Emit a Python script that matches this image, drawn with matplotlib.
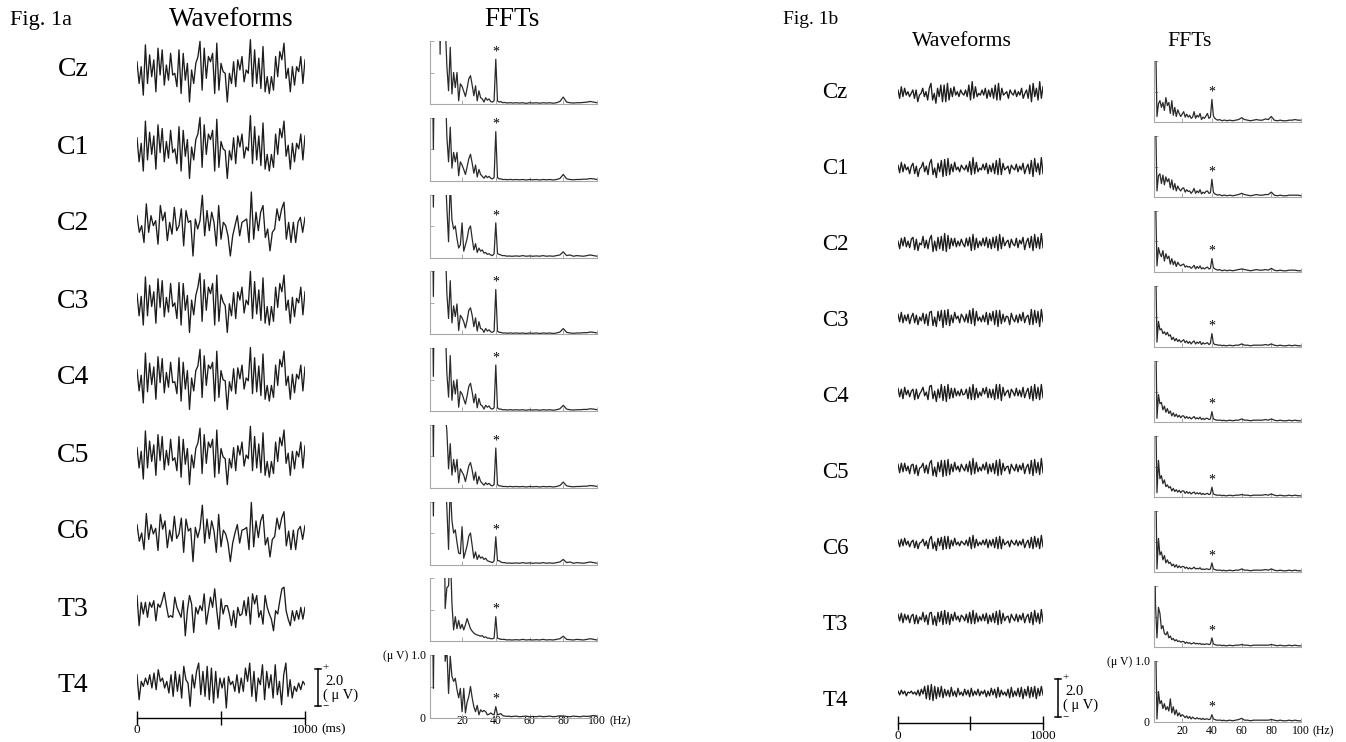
import numpy as np
import matplotlib
matplotlib.use('Agg')
import matplotlib.pyplot as plt

# ---------------- data ----------------
channels = ['Cz', 'C1', 'C2', 'C3', 'C4', 'C5', 'C6', 'T3', 'T4']

# Waveforms, Fig. 1a (uV, evenly spaced over 0-1000 ms)
wave_a_Cz = [0.45,-0.73,0.18,-1.36,1.36,-0.73,0.82,-0.36,0.55,-1.18,1.18,-0.27,1.09,-0.82,0.27,-0.55,0.9,-0.27,-0.18,-0.9,
             1.09,-1.27,0.9,-0.55,0.36,-1.73,0.0,-0.73,0.36,0.7,1.55,-1.09,1.18,-0.45,0.73,0.45,0.9,-1.27,1.45,-1.09,
             0.36,-0.09,-0.18,-1.73,-0.18,-0.73,0.45,-0.9,0.55,0.0,0.73,-0.64,0.0,-0.18,1.64,-0.9,1.09,-0.73,0.64,-1.0,
             1.27,-1.18,-0.36,-1.27,-0.36,-1.09,0.73,-0.36,1.0,0.55,1.45,-0.45,0.09,-1.18,0.18,-0.82,0.18,-0.09,0.73,-0.73,0.55]
wave_a_C1 = [0.5,-0.8,0.2,-1.3,1.4,-0.7,0.8,-0.4,0.6,-1.2,1.2,-0.3,1.0,-0.8,0.3,-0.6,0.9,-0.3,-0.1,-0.9,
             1.1,-1.3,0.9,-0.5,0.4,-1.7,0.0,-0.7,0.4,0.7,1.6,-1.1,1.2,-0.4,0.7,0.4,0.9,-1.3,1.5,-1.1,
             0.3,-0.1,-0.2,-1.7,-0.2,-0.7,0.5,-0.9,0.6,0.0,0.7,-0.6,0.0,-0.2,1.7,-0.9,1.1,-0.7,0.6,-1.0,
             1.3,-1.2,-0.4,-1.3,-0.4,-1.1,0.7,-0.4,1.0,0.5,1.4,-0.5,0.1,-1.2,0.2,-0.8,0.2,-0.1,0.7,-0.7,0.6]
wave_a_C2 = [0.45,-0.45,-0.09,-1.0,1.09,-0.45,0.45,-0.09,0.18,-1.09,1.0,0.18,0.64,-0.9,0.09,-0.55,0.9,-0.36,-0.09,0.82,
             -1.18,0.73,0.09,0.18,-1.73,0.27,-0.27,0.18,1.55,-0.64,0.73,-0.36,0.64,0.09,-1.18,1.0,-0.82,0.09,-0.09,-0.64,
             -1.73,-0.64,-0.09,0.45,-0.64,0.09,0.18,0.27,-1.0,1.73,-0.82,0.64,-0.36,0.64,1.0,-0.73,-0.27,-1.45,-0.45,-0.27,
             0.82,0.18,0.82,1.18,-0.82,0.09,-1.0,0.09,-1.0,0.09,0.36,-0.45,0.36]
wave_a_C3 = [0.4,-0.8,0.25,-1.3,1.3,-0.8,0.85,-0.3,0.5,-1.2,1.2,-0.35,1.1,-0.85,0.2,-0.6,0.95,-0.3,-0.1,-0.95,
             1.0,-1.3,0.95,-0.5,0.3,-1.7,0.05,-0.75,0.3,0.75,1.5,-1.1,1.15,-0.5,0.75,0.4,0.95,-1.3,1.4,-1.1,
             0.35,-0.05,-0.25,-1.7,-0.15,-0.8,0.45,-0.95,0.5,0.05,0.75,-0.65,0.05,-0.2,1.6,-0.95,1.05,-0.7,0.6,-1.05,
             1.25,-1.2,-0.3,-1.3,-0.3,-1.1,0.75,-0.35,0.95,0.5,1.4,-0.5,0.05,-1.2,0.2,-0.85,0.15,-0.1,0.75,-0.75,0.5]
wave_a_C4 = [0.45,-0.7,0.15,-1.35,1.35,-0.75,0.8,-0.35,0.6,-1.15,1.15,-0.25,1.05,-0.8,0.3,-0.5,0.85,-0.25,-0.2,-0.85,
             1.1,-1.25,0.85,-0.6,0.4,-1.7,0.0,-0.7,0.4,0.65,1.55,-1.05,1.2,-0.4,0.7,0.5,0.85,-1.25,1.45,-1.05,
             0.4,-0.1,-0.15,-1.7,-0.2,-0.7,0.5,-0.85,0.55,-0.05,0.7,-0.6,0.0,-0.15,1.65,-0.85,1.1,-0.75,0.65,-0.95,
             1.3,-1.15,-0.4,-1.25,-0.4,-1.05,0.7,-0.4,1.0,0.6,1.45,-0.4,0.1,-1.15,0.2,-0.8,0.2,-0.05,0.7,-0.7,0.6]
wave_a_C5 = [0.4,-0.7,0.2,-1.3,1.3,-0.7,0.75,-0.35,0.55,-1.1,1.1,-0.3,1.0,-0.8,0.25,-0.55,0.85,-0.3,-0.15,-0.85,
             1.0,-1.2,0.85,-0.5,0.35,-1.6,0.0,-0.7,0.35,0.65,1.45,-1.0,1.1,-0.45,0.7,0.4,0.85,-1.2,1.35,-1.0,
             0.35,-0.1,-0.2,-1.6,-0.2,-0.7,0.4,-0.85,0.5,0.0,0.7,-0.6,0.0,-0.2,1.55,-0.85,1.0,-0.7,0.6,-0.95,
             1.2,-1.1,-0.35,-1.2,-0.35,-1.0,0.7,-0.35,0.95,0.5,1.35,-0.45,0.1,-1.1,0.2,-0.75,0.2,-0.1,0.7,-0.7,0.5]
wave_a_C6 = [0.4,-0.5,-0.05,-0.95,1.0,-0.4,0.4,-0.1,0.2,-1.0,0.95,0.15,0.6,-0.85,0.1,-0.5,0.85,-0.35,-0.1,0.75,
             -1.1,0.7,0.05,0.2,-1.6,0.25,-0.3,0.2,1.45,-0.6,0.7,-0.35,0.6,0.05,-1.1,0.95,-0.8,0.1,-0.1,-0.6,
             -1.6,-0.6,-0.05,0.4,-0.6,0.1,0.15,0.25,-0.95,1.6,-0.8,0.6,-0.3,0.6,0.95,-0.7,-0.3,-1.35,-0.4,-0.25,
             0.75,0.15,0.75,1.1,-0.75,0.05,-0.95,0.1,-0.95,0.1,0.3,-0.4,0.35]
wave_a_T3 = [0.73,-0.9,0.36,-0.27,0.36,-0.45,0.36,0.09,0.45,-0.64,0.27,0.09,0.45,0.9,0.18,-0.45,-0.36,-0.45,0.64,0.09,
             -0.18,-0.45,0.45,-1.45,-0.09,0.73,0.27,-1.27,0.09,-0.27,0.18,-0.09,0.82,-0.82,-0.09,0.64,0.09,1.09,-0.09,-1.09,
             0.55,-0.27,0.18,0.18,-0.27,-0.9,-0.09,-1.0,0.09,-0.36,-0.27,0.45,-0.36,0.64,-0.82,0.82,0.27,0.73,-0.45,-0.09,
             -0.82,0.73,0.09,-0.27,-0.55,-1.18,-0.09,-0.27,0.45,1.09,1.18,-0.09,-0.55,-0.9,-0.09,-0.64,-0.09,-0.55,0.09,-0.55,0.09]
wave_a_T4 = [0.61,-0.74,0.25,-0.02,0.43,0.07,0.61,-0.11,0.7,-0.2,0.88,0.25,0.43,-0.11,0.25,-0.38,0.61,-0.56,0.79,-0.29,
             0.61,-0.65,1.06,0.34,0.16,-1.1,0.61,-0.11,0.79,1.24,-0.47,0.79,-0.56,1.06,-0.74,0.97,-0.92,0.79,-0.65,0.43,
             -0.11,0.43,-1.19,0.52,0.07,0.25,-0.29,0.61,-0.38,0.43,-0.29,0.97,0.25,1.24,-0.56,0.79,-0.83,0.43,0.07,1.15,
             -0.74,0.79,-0.11,0.61,-0.65,1.15,-0.47,0.25,-1.01,0.61,1.24,-0.56,0.34,-0.65,-0.02,-0.29,0.16,-0.2,0.25,0.07]

# Waveforms, Fig. 1b
wave_b_Cz = [0.16,-0.28,0.33,-0.19,0.25,-0.11,0.07,-0.19,-0.02,0.16,-0.28,0.16,-0.46,-0.11,-0.02,0.25,-0.19,0.07,-0.37,0.25,
             0.51,-0.37,-0.02,-0.54,0.25,-0.19,0.42,-0.46,0.42,-0.46,0.51,-0.37,0.25,-0.19,0.33,-0.11,0.07,-0.19,0.16,-0.02,
             -0.11,0.16,-0.19,0.42,-0.37,0.6,-0.28,0.33,-0.19,-0.02,-0.11,0.16,-0.11,0.25,-0.28,0.16,-0.19,0.25,-0.28,0.42,
             -0.37,0.51,-0.37,0.25,-0.11,-0.02,0.07,-0.28,0.16,-0.02,-0.11,0.16,-0.19,0.07,-0.11,0.25,-0.28,-0.02,0.16,-0.28,
             0.42,-0.46,0.51,-0.19,0.25,-0.37,0.6,-0.28,0.33]
wave_b_C1 = [0.15,-0.25,0.3,-0.2,0.2,-0.1,0.05,-0.3,0.1,0.25,-0.3,0.1,-0.45,-0.05,0.05,0.3,-0.2,0.1,-0.35,0.25,
             0.45,-0.35,0.0,-0.5,0.25,-0.2,0.4,-0.45,0.45,-0.4,0.5,-0.35,0.2,-0.2,0.3,-0.1,0.05,-0.2,0.15,0.0,
             -0.1,0.15,-0.2,0.35,-0.35,0.55,-0.3,0.3,-0.2,0.0,-0.1,0.2,-0.1,0.25,-0.3,0.15,-0.2,0.25,-0.3,0.4,
             -0.35,0.5,-0.35,0.25,-0.1,0.0,0.1,-0.3,0.15,0.0,-0.1,0.2,-0.2,0.1,-0.1,0.25,-0.3,0.0,0.2,-0.3,
             0.4,-0.45,0.5,-0.2,0.25,-0.35,0.55,-0.3]
wave_b_C2 = [0.1,-0.3,0.25,-0.15,0.3,-0.2,0.1,-0.25,0.2,0.3,-0.35,0.2,-0.4,0.0,-0.1,0.35,-0.25,0.15,-0.3,0.2,
             0.4,-0.45,0.1,-0.4,0.3,-0.3,0.35,-0.4,0.5,-0.45,0.4,-0.3,0.25,-0.15,0.25,-0.2,0.1,-0.15,0.2,-0.05,
             -0.2,0.25,-0.15,0.3,-0.4,0.45,-0.35,0.25,-0.25,0.1,-0.15,0.25,-0.15,0.3,-0.25,0.2,-0.3,0.3,-0.25,0.35,
             -0.4,0.45,-0.3,0.3,-0.15,0.05,0.15,-0.25,0.2,-0.05,-0.15,0.25,-0.25,0.15,-0.05,0.3,-0.35,0.05,0.25,-0.25,
             0.35,-0.4,0.45,-0.25,0.3,-0.3,0.5,-0.25]
wave_b_C3 = [0.2,-0.2,0.3,-0.25,0.15,-0.15,0.2,-0.3,0.05,0.25,-0.25,0.15,-0.35,0.05,-0.15,0.25,-0.3,0.2,-0.4,0.3,
             0.35,-0.4,0.05,-0.45,0.35,-0.15,0.4,-0.5,0.4,-0.35,0.45,-0.4,0.15,-0.25,0.3,-0.05,0.1,-0.25,0.2,0.05,
             -0.2,0.2,-0.25,0.4,-0.3,0.5,-0.4,0.35,-0.15,0.05,-0.2,0.15,-0.2,0.3,-0.35,0.25,-0.15,0.35,-0.35,0.4,
             -0.45,0.4,-0.3,0.2,-0.2,0.1,0.05,-0.35,0.25,-0.05,-0.2,0.15,-0.25,0.2,-0.15,0.3,-0.25,0.05,0.15,-0.35,
             0.45,-0.35,0.4,-0.25,0.35,-0.45,0.45,-0.2]
wave_b_C4 = [0.25,-0.2,0.2,-0.3,0.3,-0.1,0.15,-0.2,0.1,0.2,-0.35,0.2,-0.3,-0.05,0.1,0.3,-0.15,0.05,-0.35,0.35,
             0.4,-0.3,0.1,-0.45,0.2,-0.25,0.45,-0.4,0.35,-0.45,0.45,-0.3,0.25,-0.25,0.25,-0.15,0.1,-0.15,0.2,-0.1,
             -0.05,0.2,-0.3,0.3,-0.35,0.45,-0.35,0.25,-0.25,0.05,-0.15,0.25,-0.05,0.3,-0.25,0.2,-0.25,0.2,-0.35,0.45,
             -0.3,0.45,-0.4,0.3,-0.15,0.05,0.15,-0.25,0.2,0.05,-0.15,0.25,-0.15,0.15,-0.2,0.3,-0.25,0.05,0.25,-0.3,
             0.35,-0.4,0.45,-0.3,0.3,-0.35,0.45,-0.25]
wave_b_C5 = [0.2,-0.25,0.25,-0.2,0.25,-0.15,0.1,-0.3,0.15,0.2,-0.3,0.15,-0.4,0.0,0.05,0.25,-0.25,0.15,-0.3,0.25,
             0.4,-0.4,0.05,-0.45,0.3,-0.2,0.4,-0.45,0.4,-0.4,0.45,-0.35,0.2,-0.2,0.3,-0.1,0.1,-0.2,0.2,0.0,
             -0.15,0.2,-0.2,0.35,-0.35,0.5,-0.3,0.3,-0.2,0.05,-0.15,0.2,-0.1,0.3,-0.3,0.2,-0.2,0.25,-0.3,0.4,
             -0.4,0.45,-0.35,0.25,-0.15,0.05,0.1,-0.3,0.2,0.0,-0.15,0.2,-0.2,0.15,-0.1,0.25,-0.3,0.05,0.2,-0.3,
             0.4,-0.4,0.45,-0.25,0.3,-0.35,0.5,-0.25]
wave_b_C6 = [0.15,-0.2,0.2,-0.15,0.25,-0.1,0.1,-0.2,0.05,0.15,-0.25,0.1,-0.3,0.0,0.05,0.2,-0.15,0.1,-0.3,0.2,
             0.35,-0.3,0.05,-0.4,0.25,-0.15,0.3,-0.35,0.35,-0.3,0.35,-0.3,0.15,-0.15,0.25,-0.1,0.05,-0.15,0.1,0.0,
             -0.1,0.15,-0.15,0.3,-0.3,0.4,-0.25,0.2,-0.15,0.05,-0.1,0.15,-0.1,0.2,-0.25,0.15,-0.15,0.2,-0.25,0.3,
             -0.3,0.35,-0.3,0.2,-0.1,0.0,0.1,-0.2,0.15,0.0,-0.1,0.15,-0.15,0.1,-0.1,0.2,-0.25,0.0,0.15,-0.25,
             0.3,-0.3,0.35,-0.2,0.25,-0.3,0.4,-0.2]
wave_b_T3 = [0.2,-0.15,0.25,-0.25,0.2,-0.1,0.15,-0.25,0.1,0.2,-0.3,0.15,-0.3,0.05,-0.1,0.3,-0.2,0.15,-0.35,0.25,
             0.3,-0.35,0.1,-0.4,0.3,-0.2,0.35,-0.35,0.4,-0.3,0.3,-0.35,0.2,-0.15,0.3,-0.1,0.1,-0.2,0.15,0.05,
             -0.15,0.2,-0.25,0.3,-0.3,0.4,-0.3,0.25,-0.2,0.1,-0.15,0.2,-0.15,0.25,-0.3,0.15,-0.2,0.25,-0.25,0.35,
             -0.35,0.4,-0.3,0.25,-0.15,0.05,0.1,-0.25,0.2,0.0,-0.15,0.2,-0.2,0.15,-0.1,0.25,-0.25,0.05,0.2,-0.25,
             0.3,-0.35,0.4,-0.2,0.25,-0.3,0.45,-0.2]
wave_b_T4 = [0.1,-0.1,0.15,-0.05,0.1,-0.15,0.05,0.0,0.1,-0.05,0.05,-0.1,0.15,-0.15,0.2,-0.05,0.35,-0.3,0.4,-0.35,
             0.45,-0.4,0.35,-0.3,0.3,-0.2,0.35,-0.25,0.2,-0.15,0.15,-0.2,0.3,-0.15,0.1,-0.2,0.25,-0.1,0.05,-0.15,
             0.2,-0.1,0.15,-0.2,0.25,-0.15,0.1,-0.1,0.2,-0.15,0.1,-0.05,0.15,-0.2,0.1,-0.15,0.25,-0.1,0.2,-0.25,
             0.3,-0.2,0.15,-0.1,0.05,-0.15,0.2,-0.25,0.3,-0.2,0.1,-0.15,0.25,-0.2,0.3,-0.3,0.2,-0.15,0.35,-0.25,
             0.3,-0.2,0.35,-0.3,0.25,-0.15,0.35,-0.1]

# FFT frequency grid (Hz): 1..50 every 1 Hz, 52..100 every 2 Hz
fft_freqs = np.concatenate([np.arange(1, 51), np.arange(52, 101, 2)])

# FFT amplitudes, Fig. 1a (uV)
fft_a_Cz = [3.0,3.0,3.0,3.0,3.0,3.0,0.79,3.0,2.2,1.3,
            0.6,0.21,0.9,0.16,0.5,0.26,0.5,0.05,0.32,0.28,
            0.2,0.12,0.25,0.4,0.45,0.3,0.13,0.29,0.05,0.21,
            0.1,0.08,0.03,0.1,0.06,0.08,0.04,0.03,0.05,0.71,
            0.05,0.03,0.04,0.02,0.025,0.02,0.015,0.02,0.02,0.015,
            0.02,0.015,0.02,0.01,0.02, 0.015,0.02,0.012,0.02,0.015,
            0.02,0.012,0.02,0.04,0.11, 0.03,0.02,0.015,0.02,0.02,
            0.025,0.03,0.04,0.03,0.02]
fft_a_C1 = [3.0,3.0,0.5,3.0,3.0,3.0,3.0,3.0,2.5,1.6,
            0.7,0.3,0.85,0.2,0.45,0.3,0.45,0.08,0.3,0.25,
            0.18,0.1,0.22,0.35,0.42,0.28,0.12,0.25,0.06,0.18,
            0.1,0.07,0.04,0.08,0.05,0.07,0.04,0.03,0.05,0.78,
            0.05,0.03,0.03,0.02,0.02,0.02,0.015,0.02,0.02,0.015,
            0.02,0.015,0.02,0.012,0.02, 0.015,0.02,0.012,0.02,0.015,
            0.02,0.012,0.02,0.035,0.1, 0.03,0.02,0.015,0.02,0.02,
            0.025,0.025,0.035,0.03,0.02]
fft_a_C2 = [3.0,3.0,0.8,3.0,3.0,3.0,3.0,3.0,3.0,1.4,
            0.8,0.25,1.2,0.6,0.45,0.5,0.3,0.15,0.2,0.55,
            0.1,0.2,0.3,0.45,0.5,0.3,0.12,0.22,0.08,0.15,
            0.1,0.12,0.07,0.08,0.05,0.06,0.04,0.03,0.06,0.55,
            0.06,0.05,0.04,0.03,0.03,0.025,0.02,0.025,0.02,0.02,
            0.025,0.02,0.03,0.02,0.025, 0.02,0.025,0.02,0.03,0.02,
            0.025,0.02,0.03,0.04,0.09, 0.03,0.04,0.02,0.03,0.025,
            0.02,0.03,0.04,0.03,0.02]
fft_a_C3 = [3.0,3.0,0.6,3.0,3.0,3.0,3.0,3.0,2.4,1.5,
            0.65,0.25,0.85,0.18,0.45,0.28,0.48,0.06,0.3,0.26,
            0.2,0.1,0.22,0.38,0.42,0.3,0.12,0.26,0.05,0.2,
            0.09,0.08,0.03,0.09,0.05,0.07,0.04,0.03,0.05,0.71,
            0.05,0.03,0.03,0.02,0.02,0.02,0.015,0.02,0.02,0.015,
            0.02,0.015,0.02,0.012,0.02, 0.015,0.02,0.012,0.02,0.015,
            0.02,0.012,0.02,0.035,0.09, 0.03,0.02,0.015,0.02,0.02,
            0.025,0.025,0.035,0.03,0.02]
fft_a_C4 = [3.0,3.0,0.55,3.0,3.0,3.0,3.0,3.0,2.3,1.4,
            0.6,0.22,0.88,0.17,0.48,0.27,0.5,0.06,0.31,0.27,
            0.19,0.11,0.24,0.39,0.44,0.3,0.13,0.27,0.05,0.2,
            0.1,0.08,0.03,0.09,0.06,0.08,0.04,0.03,0.05,0.73,
            0.05,0.03,0.03,0.02,0.02,0.02,0.015,0.02,0.02,0.015,
            0.02,0.015,0.02,0.012,0.02, 0.015,0.02,0.012,0.02,0.015,
            0.02,0.012,0.02,0.035,0.09, 0.03,0.02,0.015,0.02,0.02,
            0.025,0.025,0.035,0.03,0.02]
fft_a_C5 = [3.0,3.0,0.5,3.0,3.0,3.0,3.0,3.0,3.0,1.2,
            0.9,0.3,0.7,0.2,0.45,0.25,0.45,0.08,0.3,0.25,
            0.2,0.1,0.22,0.35,0.4,0.28,0.12,0.25,0.06,0.18,
            0.1,0.07,0.04,0.08,0.05,0.07,0.04,0.03,0.05,0.63,
            0.05,0.03,0.03,0.02,0.02,0.02,0.015,0.02,0.02,0.015,
            0.02,0.015,0.02,0.012,0.02, 0.015,0.02,0.012,0.02,0.015,
            0.02,0.012,0.02,0.035,0.09, 0.03,0.02,0.015,0.02,0.02,
            0.025,0.025,0.035,0.03,0.02]
fft_a_C6 = [3.0,3.0,0.77,3.0,3.0,3.0,3.0,3.0,3.0,1.5,
            0.9,0.24,1.3,0.7,0.5,0.55,0.35,0.18,0.17,0.6,
            0.1,0.2,0.3,0.45,0.5,0.3,0.1,0.2,0.08,0.15,
            0.1,0.12,0.08,0.1,0.06,0.05,0.04,0.03,0.06,0.44,
            0.06,0.06,0.04,0.03,0.03,0.025,0.02,0.025,0.02,0.02,
            0.025,0.02,0.03,0.02,0.025, 0.02,0.025,0.02,0.03,0.02,
            0.025,0.02,0.03,0.04,0.08, 0.03,0.04,0.02,0.03,0.025,
            0.02,0.03,0.04,0.03,0.02]
fft_a_T3 = [3.0,3.0,3.0,3.0,3.0,3.0,3.0,3.0,3.0,0.52,
            0.85,0.88,1.5,0.6,0.18,0.39,0.2,0.33,0.2,0.27,
            0.18,0.26,0.36,0.28,0.2,0.16,0.13,0.11,0.1,0.09,
            0.08,0.09,0.06,0.07,0.05,0.05,0.04,0.04,0.05,0.39,
            0.05,0.04,0.03,0.03,0.03,0.025,0.02,0.025,0.02,0.02,
            0.025,0.02,0.03,0.02,0.025, 0.02,0.025,0.02,0.03,0.02,
            0.025,0.02,0.03,0.04,0.08, 0.03,0.025,0.02,0.03,0.025,
            0.02,0.03,0.04,0.03,0.02]
fft_a_T4 = [3.0,3.0,0.47,3.0,3.0,3.0,3.0,3.0,2.5,0.9,
            1.1,0.39,0.98,0.66,0.58,0.63,0.45,0.32,0.47,0.1,
            0.47,0.08,0.25,0.34,0.5,0.32,0.18,0.1,0.2,0.05,
            0.13,0.1,0.12,0.1,0.05,0.06,0.08,0.06,0.05,0.18,
            0.05,0.06,0.07,0.04,0.03,0.03,0.025,0.03,0.02,0.025,
            0.03,0.02,0.025,0.03,0.02, 0.025,0.02,0.03,0.02,0.025,
            0.03,0.02,0.025,0.035,0.03, 0.025,0.02,0.03,0.025,0.02,
            0.03,0.025,0.03,0.04,0.03]

# FFT amplitudes, Fig. 1b (uV)
fft_b_Cz = [3.0,1.5,0.09,0.3,0.35,0.24,0.32,0.19,0.4,0.27,
            0.32,0.14,0.35,0.11,0.24,0.09,0.2,0.14,0.09,0.13,
            0.17,0.08,0.13,0.08,0.11,0.06,0.08,0.17,0.06,0.11,
            0.08,0.14,0.04,0.08,0.06,0.1,0.14,0.06,0.08,0.37,
            0.1,0.06,0.04,0.03,0.04,0.03,0.02,0.03,0.03,0.02,
            0.03,0.02,0.03,0.04,0.07, 0.04,0.03,0.02,0.03,0.04,
            0.03,0.03,0.05,0.04,0.09, 0.03,0.02,0.03,0.02,0.02,
            0.03,0.03,0.04,0.03,0.03]
fft_b_C1 = [3.0,1.4,0.1,0.35,0.38,0.22,0.36,0.2,0.33,0.25,
            0.3,0.15,0.28,0.12,0.22,0.1,0.18,0.13,0.1,0.14,
            0.15,0.08,0.12,0.09,0.1,0.06,0.09,0.14,0.06,0.1,
            0.07,0.12,0.05,0.08,0.06,0.09,0.1,0.06,0.07,0.29,
            0.08,0.05,0.04,0.03,0.04,0.03,0.02,0.03,0.03,0.02,
            0.03,0.02,0.03,0.04,0.06, 0.04,0.03,0.02,0.03,0.04,
            0.03,0.03,0.04,0.04,0.08, 0.03,0.02,0.03,0.02,0.02,
            0.03,0.03,0.03,0.03,0.02]
fft_b_C2 = [3.0,1.3,0.1,0.4,0.3,0.25,0.35,0.18,0.3,0.22,
            0.26,0.13,0.22,0.12,0.18,0.09,0.16,0.12,0.1,0.12,
            0.13,0.08,0.1,0.08,0.09,0.06,0.08,0.11,0.05,0.09,
            0.06,0.1,0.05,0.07,0.05,0.07,0.08,0.05,0.06,0.22,
            0.07,0.05,0.04,0.03,0.04,0.03,0.02,0.03,0.03,0.02,
            0.03,0.02,0.03,0.04,0.05, 0.04,0.03,0.02,0.03,0.04,
            0.03,0.03,0.04,0.03,0.06, 0.03,0.02,0.03,0.02,0.02,
            0.03,0.03,0.03,0.02,0.02]
fft_b_C3 = [3.0,1.6,0.08,0.42,0.28,0.3,0.22,0.25,0.2,0.24,
            0.18,0.2,0.12,0.16,0.1,0.14,0.09,0.12,0.08,0.1,
            0.12,0.07,0.1,0.06,0.09,0.05,0.08,0.1,0.05,0.08,
            0.06,0.09,0.04,0.07,0.05,0.06,0.07,0.04,0.06,0.22,
            0.06,0.04,0.04,0.03,0.03,0.03,0.02,0.03,0.02,0.02,
            0.03,0.02,0.03,0.03,0.05, 0.03,0.03,0.02,0.03,0.03,
            0.03,0.03,0.04,0.03,0.05, 0.03,0.02,0.03,0.02,0.02,
            0.03,0.02,0.03,0.02,0.02]
fft_b_C4 = [3.0,1.8,0.06,0.45,0.3,0.32,0.2,0.26,0.16,0.22,
            0.14,0.18,0.1,0.15,0.09,0.13,0.08,0.11,0.07,0.1,
            0.1,0.06,0.09,0.06,0.08,0.05,0.07,0.09,0.05,0.07,
            0.05,0.08,0.04,0.06,0.04,0.06,0.06,0.04,0.05,0.17,
            0.05,0.04,0.03,0.03,0.03,0.03,0.02,0.03,0.02,0.02,
            0.03,0.02,0.03,0.03,0.05, 0.03,0.03,0.02,0.03,0.03,
            0.03,0.03,0.04,0.03,0.05, 0.03,0.02,0.03,0.02,0.02,
            0.03,0.02,0.03,0.02,0.02]
fft_b_C5 = [3.0,1.7,0.07,0.6,0.3,0.35,0.22,0.28,0.17,0.2,
            0.15,0.17,0.1,0.14,0.09,0.12,0.08,0.11,0.07,0.1,
            0.1,0.06,0.09,0.06,0.08,0.05,0.07,0.08,0.05,0.07,
            0.05,0.07,0.04,0.06,0.04,0.05,0.06,0.04,0.05,0.16,
            0.05,0.04,0.03,0.03,0.03,0.03,0.02,0.03,0.02,0.02,
            0.03,0.02,0.03,0.03,0.04, 0.03,0.03,0.02,0.03,0.03,
            0.03,0.03,0.04,0.03,0.05, 0.03,0.02,0.03,0.02,0.02,
            0.03,0.02,0.03,0.02,0.02]
fft_b_C6 = [3.0,1.9,0.05,0.55,0.28,0.33,0.2,0.27,0.15,0.2,
            0.14,0.16,0.1,0.13,0.08,0.12,0.07,0.1,0.07,0.09,
            0.09,0.06,0.08,0.05,0.07,0.05,0.06,0.08,0.05,0.06,
            0.05,0.07,0.04,0.05,0.04,0.05,0.05,0.04,0.05,0.15,
            0.05,0.04,0.03,0.03,0.03,0.03,0.02,0.03,0.02,0.02,
            0.03,0.02,0.03,0.03,0.05, 0.03,0.03,0.02,0.03,0.03,
            0.03,0.03,0.04,0.03,0.05, 0.03,0.02,0.03,0.02,0.02,
            0.03,0.02,0.03,0.02,0.02]
fft_b_T3 = [3.0,0.7,0.15,0.65,0.55,0.3,0.35,0.22,0.2,0.25,
            0.15,0.18,0.12,0.14,0.1,0.12,0.09,0.1,0.08,0.09,
            0.09,0.06,0.08,0.06,0.07,0.05,0.06,0.07,0.05,0.06,
            0.05,0.06,0.04,0.05,0.04,0.05,0.05,0.04,0.05,0.15,
            0.05,0.04,0.03,0.03,0.03,0.03,0.02,0.03,0.02,0.02,
            0.03,0.02,0.03,0.03,0.04, 0.03,0.03,0.02,0.03,0.03,
            0.03,0.03,0.03,0.03,0.04, 0.03,0.02,0.03,0.02,0.02,
            0.03,0.02,0.03,0.02,0.02]
fft_b_T4 = [3.0,1.5,0.05,0.5,0.3,0.35,0.22,0.3,0.2,0.25,
            0.18,0.38,0.15,0.25,0.12,0.2,0.1,0.15,0.09,0.12,
            0.1,0.07,0.1,0.06,0.09,0.05,0.08,0.06,0.05,0.07,
            0.05,0.06,0.04,0.06,0.04,0.05,0.05,0.04,0.05,0.12,
            0.05,0.04,0.03,0.03,0.03,0.03,0.02,0.03,0.02,0.02,
            0.03,0.02,0.03,0.04,0.06, 0.03,0.03,0.02,0.03,0.03,
            0.03,0.03,0.03,0.03,0.04, 0.03,0.02,0.03,0.02,0.02,
            0.03,0.02,0.03,0.02,0.02]

waves_a = [wave_a_Cz, wave_a_C1, wave_a_C2, wave_a_C3, wave_a_C4, wave_a_C5, wave_a_C6, wave_a_T3, wave_a_T4]
waves_b = [wave_b_Cz, wave_b_C1, wave_b_C2, wave_b_C3, wave_b_C4, wave_b_C5, wave_b_C6, wave_b_T3, wave_b_T4]
ffts_a = [fft_a_Cz, fft_a_C1, fft_a_C2, fft_a_C3, fft_a_C4, fft_a_C5, fft_a_C6, fft_a_T3, fft_a_T4]
ffts_b = [fft_b_Cz, fft_b_C1, fft_b_C2, fft_b_C3, fft_b_C4, fft_b_C5, fft_b_C6, fft_b_T3, fft_b_T4]
for lst in ffts_a + ffts_b:
    assert len(lst) == len(fft_freqs), len(lst)

# ---------------- figure ----------------
W, H = 1346, 742
plt.rcParams['font.family'] = ['Liberation Serif', 'DejaVu Serif']
fig = plt.figure(figsize=(W / 100, H / 100), dpi=100)
PT = 72 / 100.0  # points per pixel


def px_axes(x0, y0, x1, y1):
    return fig.add_axes([x0 / W, 1 - y1 / H, (x1 - x0) / W, (y1 - y0) / H])


def ftext(x, y, s, **kw):
    fig.text(x / W, 1 - y / H, s, **kw)


LINE = '#1c1c1c'
SPINE = '#a8a8a8'

panels = [
    dict(waves=waves_a, ffts=ffts_a, fig_label='Fig. 1a', fig_xy=(10, 21), fig_fs=16,
         title_fs=19.5, title_y=19, wave_title_x=231, fft_title_x=512,
         lab_x=73, lab_y0=70, lab_dy=77, lab_fs=20,
         wave_x=(137, 305), wave_c0=70, wave_dy=77, ppu=18.5,
         fft_x=(430, 597), fft_b0=104, fft_dy=76.75, fft_h=63,
         tick_fs=8.5, xlab_pad=-2.0, hz_dx=12, ms_label=True, axis_y=718, time_pad=-1,
         bar_x=318, bar_c=687.5),
    dict(waves=waves_b, ffts=ffts_b, fig_label='Fig. 1b', fig_xy=(783, 19), fig_fs=14,
         title_fs=15.7, title_y=41, wave_title_x=962, fft_title_x=1190,
         lab_x=835, lab_y0=93, lab_dy=75.9, lab_fs=16.5,
         wave_x=(898, 1043), wave_c0=93, wave_dy=75, ppu=19,
         fft_x=(1154, 1301), fft_b0=122, fft_dy=75, fft_h=61,
         tick_fs=8.5, xlab_pad=2.0, hz_dx=12, ms_label=False, axis_y=723, time_pad=0,
         bar_x=1058, bar_c=698),
]

for P in panels:
    ftext(P['fig_xy'][0], P['fig_xy'][1], P['fig_label'], ha='left', va='center', fontsize=P['fig_fs'])
    ftext(P['wave_title_x'], P['title_y'], 'Waveforms', ha='center', va='center', fontsize=P['title_fs'])
    ftext(P['fft_title_x'], P['title_y'], 'FFTs', ha='center', va='center', fontsize=P['title_fs'])

    for i, ch in enumerate(channels):
        # channel label
        ftext(P['lab_x'], P['lab_y0'] + i * P['lab_dy'], ch, ha='center', va='center', fontsize=P['lab_fs'])

        # waveform
        c = P['wave_c0'] + i * P['wave_dy']
        half = 2 * P['ppu']
        ax = px_axes(P['wave_x'][0], c - half, P['wave_x'][1], c + half)
        vals = np.asarray(P['waves'][i])
        t = np.linspace(0, 1000, len(vals))
        ax.plot(t, vals, color=LINE, lw=0.95)
        ax.set_xlim(0, 1000)
        ax.set_ylim(-2, 2)
        ax.axis('off')

        # FFT
        bot = P['fft_b0'] + i * P['fft_dy']
        fx = px_axes(P['fft_x'][0], bot - P['fft_h'], P['fft_x'][1], bot)
        amp = np.asarray(P['ffts'][i])
        fx.plot(fft_freqs, amp, color='#2a2a2a', lw=0.9)
        fx.set_xlim(1, 100)
        fx.set_ylim(0, 1.0)
        for s in ('top', 'right'):
            fx.spines[s].set_visible(False)
        for s in ('left', 'bottom'):
            fx.spines[s].set_color(SPINE)
            fx.spines[s].set_linewidth(0.8)
        fx.set_xticks([20, 40, 60, 80, 100])
        fx.set_yticks([0, 0.5, 1.0])
        fx.tick_params(direction='in', length=3, width=0.7, color=SPINE,
                       labelsize=P['tick_fs'], pad=3)
        pk = amp[list(fft_freqs).index(40)]
        fx.annotate('*', (40, pk), xytext=(0, 0.5), textcoords='offset points',
                    ha='center', va='bottom', fontsize=10, annotation_clip=False)
        if ch == 'T4':
            fx.set_xticklabels(['20', '40', '60', '80', '100'])
            fx.set_yticklabels(['0', '', '(\u03bc V) 1.0'])
            fx.tick_params(axis='x', pad=P['xlab_pad'])
            fx.annotate('(Hz)', (100, 0), xycoords=('data', 'axes fraction'),
                        xytext=(P['hz_dx'] * PT, -(P['xlab_pad'] + 0.2)),
                        textcoords='offset points', ha='left', va='top',
                        fontsize=P['tick_fs'], annotation_clip=False)
        else:
            fx.set_xticklabels([])
            fx.set_yticklabels([])

    # time scale bar under last waveform
    x0, x1 = P['wave_x']
    y = P['axis_y']
    tax = px_axes(x0, y - 10, x1, y)
    tax.set_xlim(0, 1000)
    tax.set_ylim(0, 1)
    for s in ('top', 'right', 'left'):
        tax.spines[s].set_visible(False)
    tax.spines['bottom'].set_linewidth(1.0)
    tax.set_yticks([])
    tax.set_xticks([0, 500, 1000])
    tax.set_xticklabels(['0', '', '1000'])
    tax.tick_params(axis='x', direction='inout', length=10, width=1.0,
                    labelsize=9.5, pad=P['time_pad'])
    tax.patch.set_visible(False)
    if P['ms_label']:
        tax.annotate('(ms)', (1000, 0), xycoords=('data', 'axes fraction'),
                     xytext=(16 * PT, -(5 + P['time_pad']) * PT - 0.6), textcoords='offset points',
                     ha='left', va='top', fontsize=9.5, annotation_clip=False)

    # amplitude scale bar (2.0 uV)
    bx, bc, ppu = P['bar_x'], P['bar_c'], P['ppu']
    bax = px_axes(bx - 10, bc - 2 * ppu, bx + 60, bc + 2 * ppu)
    bax.set_xlim(-10, 60)
    bax.set_ylim(-2, 2)
    bax.axis('off')
    bax.plot([0, 0], [-1, 1], color='black', lw=1.1)
    bax.plot([-3, 3], [1, 1], color='black', lw=1.1)
    bax.plot([-3, 3], [-1, -1], color='black', lw=1.1)
    bax.text(4, 1.05, '+', ha='left', va='center', fontsize=8)
    bax.text(4, -1.05, '\u2212', ha='left', va='center', fontsize=8)
    bax.text(7, 0.35, '2.0', ha='left', va='center', fontsize=10.5)
    bax.text(5, -0.4, '( \u03bc V)', ha='left', va='center', fontsize=10.5)

fig.savefig('out.png', dpi=100, facecolor='white')
